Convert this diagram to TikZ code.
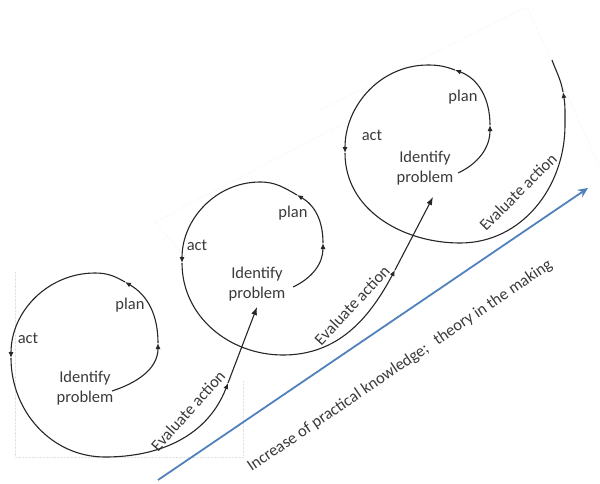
\documentclass[tikz,border=0pt]{standalone}
\usepackage{fontspec}
\setmainfont{Carlito}
\usetikzlibrary{arrows.meta}
\definecolor{ink}{HTML}{262626}
\definecolor{txt}{HTML}{3A3A3A}
\definecolor{blueline}{HTML}{4F81BD}
\begin{document}
\begin{tikzpicture}[x=1pt,y=1pt,
  ln/.style={draw=ink,line width=1.1pt},
  mid/.style={ln,-{Latex[length=6pt,width=5pt]}},
  tip/.style={ln,-{Latex[length=8pt,width=6pt]}},
  lbl/.style={text=txt,font=\fontsize{16.5}{20}\selectfont,inner sep=0pt},
  idp/.style={lbl,align=center},
  faint/.style={draw=gray!22,densely dotted,line width=0.4pt}]
\useasboundingbox (0,0) rectangle (600,-483);
% faint frames
\draw[faint] (15,-272) -- (15,-457) -- (243,-457) -- (243,-380);
\draw[faint] (190,-262) -- (155,-222) -- (350,-120);
\draw[faint] (320,-110) -- (527,-7) -- (600,-167);
% ---------- cycle 1 ----------
\coordinate (S1) at (112,-391);
\coordinate (R1) at (158,-343);
\coordinate (T1) at (125,-282);
\coordinate (P1) at (95,-273);
\coordinate (L1) at (11,-358);
\coordinate (B1) at (105,-457);
\coordinate (E1) at (228,-383);
\coordinate (X1) at (257,-307);
\node[lbl] (act1) at (28,-338) {act};
\node[lbl] (plan1) at (130,-305) {plan};
\node[idp] (id1) at (85,-388) {Identify\\problem};
\node[lbl,rotate=48] (ev1) at (188,-411) {Evaluate action};
\draw[mid] (S1) to[out=18,in=-90] (R1);
\draw[mid] (R1) to[out=90,in=-30] (T1);
\draw[mid] (T1) to[out=150,in=0] (P1) to[out=180,in=90] (L1);
\draw[mid] (L1) to[out=270,in=180] (B1) to[out=0,in=249] (E1);
\draw[tip] (E1) -- (X1);
% ---------- cycle 2 ----------
\coordinate (S2) at (293,-287);
\coordinate (R2) at (323,-243);
\coordinate (T2) at (297,-195);
\coordinate (P2) at (260,-182);
\coordinate (L2) at (182,-263);
\coordinate (B2) at (283,-355);
\coordinate (E2) at (395,-270);
\coordinate (X2) at (433,-197);
\node[lbl] (act2) at (197,-245) {act};
\node[lbl] (plan2) at (293,-213) {plan};
\node[idp] (id2) at (257,-284) {Identify\\problem};
\node[lbl,rotate=47] (ev2) at (352,-305) {Evaluate action};
\draw[mid] (S2) to[out=25,in=-90] (R2);
\draw[mid] (R2) to[out=90,in=-30] (T2);
\draw[mid] (T2) to[out=150,in=0] (P2) to[out=180,in=90] (L2);
\draw[mid] (L2) to[out=270,in=180] (B2) to[out=0,in=242] (E2);
\draw[tip] (E2) -- (X2);
% ---------- cycle 3 ----------
\coordinate (S3) at (458,-173);
\coordinate (R3) at (490,-125);
\coordinate (T3) at (455,-70);
\coordinate (P3) at (428,-65);
\coordinate (L3) at (345,-153);
\coordinate (B3) at (460,-243);
\coordinate (M3) at (565,-125);
\coordinate (E3) at (563,-92);
\coordinate (Z3) at (552,-60);
\node[lbl] (act3) at (372,-135) {act};
\node[lbl] (plan3) at (463,-97) {plan};
\node[idp] (id3) at (425,-168) {Identify\\problem};
\node[lbl,rotate=45] (ev3) at (518,-192) {Evaluate action};
\draw[mid] (S3) to[out=25,in=-90] (R3);
\draw[mid] (R3) to[out=90,in=-20] (T3);
\draw[mid] (T3) to[out=160,in=0] (P3) to[out=180,in=90] (L3);
\draw[mid] (L3) to[out=270,in=180] (B3) to[out=0,in=270] (M3) to[out=90,in=-80] (E3);
\draw[ln] (E3) to[out=100,in=-70] (Z3);
% ---------- progress arrow ----------
\coordinate (G0) at (158,-480);
\coordinate (G1) at (588,-188);
\draw[draw=blueline,line width=1.8pt,-{Stealth[length=10pt,width=9pt]}] (G0) -- (G1);
\node[lbl,rotate=34.2] (prog) at (400,-366) {Increase of practical knowledge;\hspace{0.6em}theory in the making};
\end{tikzpicture}
\end{document}
